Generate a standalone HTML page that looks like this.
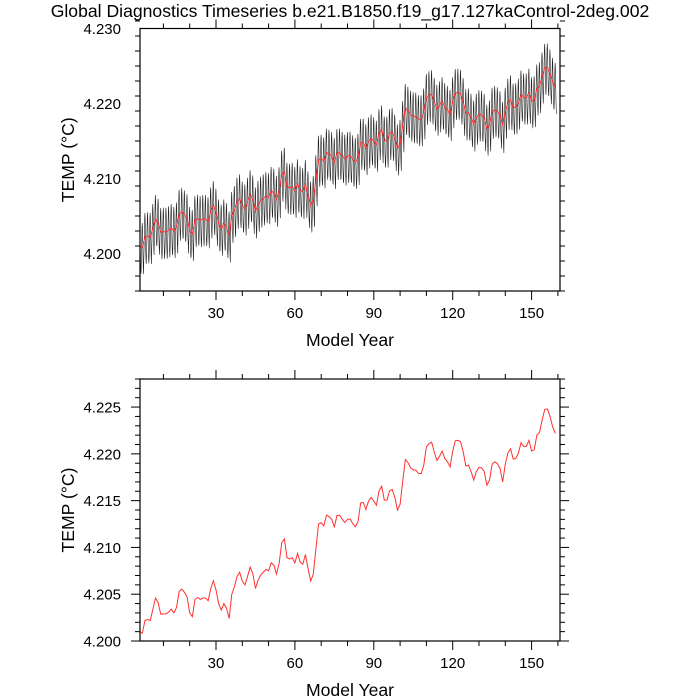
<!DOCTYPE html>
<html><head><meta charset="utf-8"><style>
html,body{margin:0;padding:0;background:#fff;width:700px;height:700px;overflow:hidden}
svg{display:block}
text{font-family:"Liberation Sans",sans-serif;fill:#000}
</style></head><body>
<svg id="c" width="700" height="700" viewBox="0 0 700 700">
<text x="350" y="17" font-size="17.6" text-anchor="middle">Global Diagnostics Timeseries b.e21.B1850.f19_g17.127kaControl-2deg.002</text>
</svg>
<script>
// Annual mean TEMP anomaly in thousandths above 4.200 (years 1..)
const annualValues = [0.9,0.85,2.2,2.3,2.2,3.4,4.6,4.1,2.85,2.9,2.9,3.1,3.4,3.0,3.6,5.3,5.55,5.2,4.7,3.0,
2.6,4.45,4.65,4.45,4.6,4.6,4.3,5.6,6.45,5.45,4.0,3.3,4.0,3.5,2.4,5.0,5.8,6.9,7.35,6.4,
6.0,6.9,7.9,7.2,5.6,6.5,7.05,7.35,7.65,7.5,8.35,8.1,7.15,8.3,10.5,10.9,8.9,8.75,8.9,8.35,
9.35,8.45,8.2,9.25,7.75,6.4,7.15,9.9,12.5,12.65,12.3,13.45,13.3,13.0,12.2,13.4,13.45,13.0,12.65,13.0,
13.05,12.55,12.2,12.75,14.75,14.8,14.05,14.95,15.35,14.95,14.5,16.05,16.55,15.05,15.05,16.05,16.2,15.35,14.0,14.6,
17.1,19.4,19.05,18.5,18.3,18.25,17.9,17.9,18.8,20.75,21.1,21.25,20.2,19.3,19.75,20.3,19.5,19.15,18.6,20.3,
21.4,21.45,21.3,20.2,18.7,18.8,18.1,17.2,18.1,18.55,18.5,18.1,16.65,17.2,18.9,19.15,18.95,18.45,17.0,18.9,
20.1,20.55,19.45,19.5,20.1,21.2,20.8,20.8,21.45,20.3,20.45,22.0,22.3,23.6,24.75,24.8,24.0,22.9,22.2];
// Monthly seasonal anomaly (thousandths), added to annual mean for monthly series
const seasonalCycle = [-3.0,-1.8,-0.4,1.2,2.6,3.2,2.6,1.0,-0.6,-2.0,-3.0,-3.6];
const topYTicks = ["4.200","4.210","4.220","4.230"];
const botYTicks = ["4.200","4.205","4.210","4.215","4.220","4.225"];
const xTickLabels = ["30","60","90","120","150"];

const svg=document.getElementById('c');
const NS='http://www.w3.org/2000/svg';
function mk(tag,attrs,parent){const e=document.createElementNS(NS,tag);for(const k in attrs)e.setAttribute(k,attrs[k]);(parent||svg).appendChild(e);return e;}
const X0=140,X1=560,XMIN=1.1,XMAX=160.8;
function xs(t){return X0+(t-XMIN)/(XMAX-XMIN)*(X1-X0);}

function panel(name,top,bot,ymin,ymax,major,minor,labels,showMonthly){
  const g=mk('g',{});
  
  
  const ys=v=>bot-(v-ymin)/(ymax-ymin)*(bot-top);
  if(showMonthly){
    let d='';
    annualValues.forEach((a,i)=>{seasonalCycle.forEach((s,m)=>{
      const t=i+1+(m-5.5)/12; if(t<XMIN||t>XMAX)return;
      d+=(d?'L':'M')+xs(t).toFixed(2)+','+ys(4.2+(a+s)/1000).toFixed(2);});});
    const p=mk('path',{d:d,fill:'none',stroke:'#222','stroke-width':'0.6'},g);
    
    
  }
  let d='';
  annualValues.forEach((a,i)=>{d+=(i?'L':'M')+xs(i+1).toFixed(2)+','+ys(4.2+a/1000).toFixed(2);});
  const r=mk('path',{d:d,fill:'none',stroke:'#ff3030','stroke-width':'1'},g);
  
  
  const f=mk('rect',{x:X0,y:top,width:X1-X0,height:bot-top,fill:'none',stroke:'#000','stroke-width':'1.2'},g);
  
  
  const n=Math.round((ymax-ymin)/minor);
  for(let k=0;k<=n;k++){
    const v=ymin+k*minor; const y=ys(v);
    const isMaj=Math.abs((v-4.2)/major-Math.round((v-4.2)/major))<1e-6;
    const L=isMaj?9:5;
    mk('line',{x1:X0-L,x2:X0,y1:y,y2:y,stroke:'#000','stroke-width':'1'},g);
    mk('line',{x1:X1,x2:X1+L,y1:y,y2:y,stroke:'#000','stroke-width':'1'},g);
  }
  labels.forEach((lab,i)=>{
    const t=mk('text',{x:121,y:ys(4.2+i*major)+5.5,'font-size':'15','text-anchor':'end'},g);
    t.textContent=lab;
    
    
  });
  for(let yr=10;yr<=160;yr+=10){
    const x=xs(yr); const L=(yr%30===0)?9:5;
    mk('line',{x1:x,x2:x,y1:bot,y2:bot+L,stroke:'#000','stroke-width':'1'},g);
    mk('line',{x1:x,x2:x,y1:top-L,y2:top,stroke:'#000','stroke-width':'1'},g);
  }
  xTickLabels.forEach(lab=>{
    const t=mk('text',{x:xs(+lab),y:bot+27,'font-size':'15','text-anchor':'middle'},g);
    t.textContent=lab;
    
    
  });
  const xl=mk('text',{x:350,y:bot+55,'font-size':'17.6','text-anchor':'middle'},g);
  xl.textContent='Model Year';
  
  
  const cy=(top+bot)/2;
  const yl=mk('text',{x:74,y:cy,'font-size':'17.6','text-anchor':'middle',transform:'rotate(-90 74 '+cy+')'},g);
  yl.textContent='TEMP (°C)';
  
  
}
panel('top-panel',28.5,291,4.195,4.230,0.010,0.002,topYTicks,true);
panel('bottom-panel',379,641,4.200,4.228,0.005,0.001,botYTicks,false);
</script>
</body></html>
